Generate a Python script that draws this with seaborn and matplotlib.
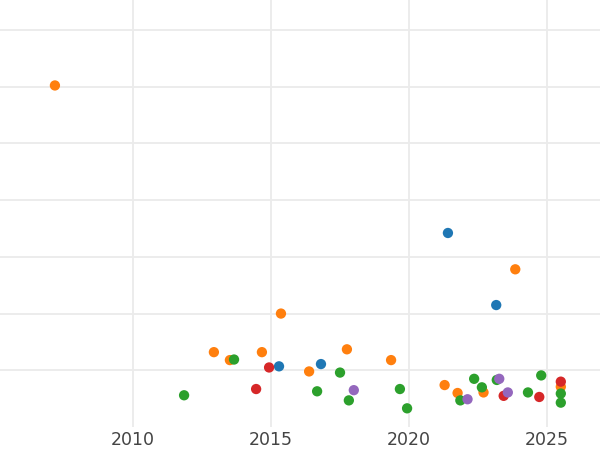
import pandas as pd
import matplotlib
matplotlib.use('Agg')
import matplotlib.pyplot as plt
import seaborn as sns

# values, one list per group
blue_year = [2015.29, 2016.81, 2021.41, 2023.16]
blue_val = [1.07, 1.11, 3.42, 2.15]
orange_year = [2007.17, 2012.93, 2013.51, 2014.67, 2015.36, 2016.38, 2017.75,
               2019.35, 2021.29, 2021.76, 2022.70, 2023.85, 2025.50]
orange_val = [6.02, 1.32, 1.18, 1.32, 2.00, 0.98, 1.37, 1.18, 0.74, 0.60, 0.61, 2.78, 0.71]
green_year = [2011.85, 2013.66, 2016.67, 2017.50, 2017.82, 2019.67, 2019.93, 2021.86,
              2022.36, 2022.64, 2023.18, 2024.31, 2024.79, 2025.50, 2025.50]
green_val = [0.56, 1.19, 0.63, 0.96, 0.47, 0.67, 0.33, 0.47, 0.85, 0.70, 0.83, 0.61,
             0.91, 0.59, 0.43]
red_year = [2014.46, 2014.93, 2023.43, 2024.72, 2025.50]
red_val = [0.67, 1.05, 0.55, 0.53, 0.80]
purple_year = [2018.00, 2022.12, 2023.27, 2023.58]
purple_val = [0.65, 0.49, 0.85, 0.61]

groups = ['A', 'B', 'C', 'D', 'E']
xticks = [2010, 2015, 2020, 2025]

frames = []
for g, xs, ys in zip(groups,
                     [blue_year, orange_year, green_year, red_year, purple_year],
                     [blue_val, orange_val, green_val, red_val, purple_val]):
    frames.append(pd.DataFrame({'year': xs, 'value': ys, 'group': g}))
df = pd.concat(frames, ignore_index=True)

sns.set_theme(style='whitegrid')
fig = plt.figure(figsize=(6, 4.5), dpi=100)
ax = fig.add_axes([0, 0.051, 1, 0.949])

sns.scatterplot(data=df, x='year', y='value', hue='group', hue_order=groups,
                palette='tab10', s=55, linewidth=0, legend=False, ax=ax)

ax.set_xlim(2005.18, 2026.92)
ax.set_ylim(0, 7.526)
ax.set_xticks(xticks)
ax.set_yticks(range(1, 8))
ax.set_yticklabels([])
ax.set_xlabel('')
ax.set_ylabel('')
ax.grid(True, color='#ebebeb', linewidth=1.3)
ax.tick_params(axis='x', labelsize=12.5, labelcolor='#444444', length=0, pad=3)
ax.tick_params(axis='y', length=0)
for sp in ax.spines.values():
    sp.set_visible(False)

fig.savefig('out.png', dpi=100)
